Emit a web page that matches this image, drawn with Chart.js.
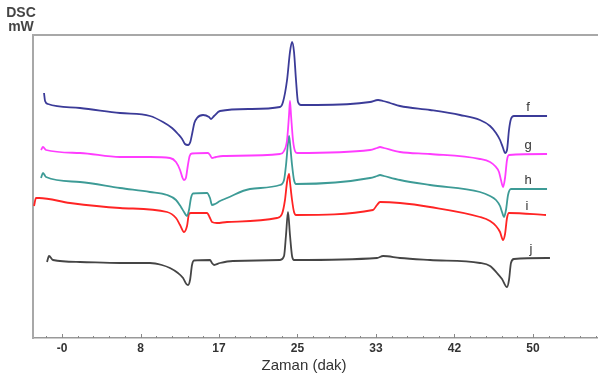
<!DOCTYPE html>
<html lang="tr">
<head>
<meta charset="UTF-8">
<title>DSC</title>
<script src="https://cdn.jsdelivr.net/npm/chart.js"></script>
<style>
    body { margin: 0; padding: 0; background: #fff; }
    #wrap { width: 598px; height: 376px; }
</style>
</head>
<body>
<div id="wrap"><canvas id="dsc"></canvas></div>
<script>
// time (dak) vs heat flow (arbitrary mW, curves offset)
const seriesNames = ['f', 'g', 'h', 'i', 'j'];
const seriesColors = ['#3b3b98', '#ff3cff', '#3d9b96', '#ff2424', '#454545'];

const tickValues = [0, 8.333, 16.667, 25, 33.333, 41.667, 50];
const tickLabels = ['-0', '8', '17', '25', '33', '42', '50'];

const fData = [[-1.91,24.5],[-1.80,23.7],[-1.49,23.4],[1.91,23.0],[6.16,22.5],[9.34,22.2],[10.72,21.6],[11.68,21.0],
    [12.31,20.4],[12.75,19.9],[13.05,19.4],[13.38,19.3],[13.62,19.6],[13.85,20.6],[14.05,21.5],[14.33,22.0],[14.97,22.3],[15.61,22.1],[15.82,21.9],
    [16.14,22.2],[16.77,22.7],[19.96,22.9],[23.14,23.1],[23.46,23.6],[23.89,25.8],[24.20,28.6],[24.42,29.6],[24.63,28.6],
    [24.84,25.8],[25.05,23.6],[25.37,23.3],[27.07,23.3],[32.70,23.6],[33.55,23.8],[34.08,23.7],[34.82,23.5],[35.88,23.2],
    [39.07,22.8],[42.25,22.3],[44.37,21.8],[45.44,21.2],[46.07,20.5],[46.50,19.8],[46.82,19.0],[47.03,18.5],[47.24,18.8],
    [47.45,20.8],[47.66,21.9],[47.98,22.2],[51.49,22.2]];

const gData = [[-2.23,18.8],[-2.02,19.1],[-1.70,18.8],[1.91,18.5],[6.16,18.1],[9.34,18.1],[11.46,18.0],[12.10,17.6],
    [12.53,16.8],[12.80,16.0],[12.95,15.8],[13.15,16.0],[13.35,17.2],[13.55,18.2],[13.80,18.45],[15.50,18.5],[15.71,18.3],[15.92,18.0],[16.35,18.1],
    [17.09,18.2],[23.14,18.4],[23.57,18.7],[23.89,19.8],[24.10,22.3],[24.20,23.7],[24.31,22.3],[24.52,19.8],[24.73,18.7],
    [24.95,18.5],[32.70,18.8],[33.44,19.0],[33.76,19.1],[34.18,19.0],[35.88,18.6],[39.07,18.4],[44.37,17.9],[45.44,17.6],
    [45.97,17.2],[46.39,16.6],[46.60,15.8],[46.82,15.1],[47.03,16.0],[47.24,17.8],[47.45,18.3],[51.49,18.4]];

const hData = [[-2.23,16.0],[-2.02,16.5],[-1.70,16.1],[1.91,15.6],[6.16,15.0],[9.34,14.6],[11.15,14.3],[12.10,13.8],
    [12.63,13.1],[12.95,12.6],[13.27,12.2],[13.48,12.8],[13.69,14.0],[13.91,14.45],[15.39,14.5],[15.71,14.0],[15.92,13.3],
    [16.24,13.4],[16.77,13.7],[17.52,14.0],[19.96,14.9],[23.14,15.3],[23.57,15.8],[23.78,17.3],[23.99,19.5],[24.10,20.2],
    [24.20,19.5],[24.42,17.3],[24.63,15.8],[24.84,15.4],[32.70,16.0],[33.44,16.2],[33.76,16.3],[34.18,16.2],[35.88,15.8],
    [39.07,15.3],[44.37,14.6],[45.44,14.2],[46.07,13.8],[46.50,13.2],[46.71,12.6],[46.92,12.1],[47.13,12.8],[47.35,14.3],
    [47.66,14.9],[51.49,14.9]];

const iData = [[-2.97,13.2],[-2.76,14.0],[-2.44,14.0],[0.85,13.5],[6.16,13.0],[11.15,12.6],[12.10,12.0],[12.53,11.3],
    [12.95,10.6],[13.27,11.2],[13.48,12.4],[13.69,12.5],[15.39,12.5],[15.71,12.0],[15.92,11.6],[16.45,11.5],[17.52,11.6],
    [22.82,12.0],[23.35,12.4],[23.67,13.8],[23.89,15.6],[24.10,16.4],[24.20,15.6],[24.42,13.8],[24.63,12.6],[24.84,12.3],
    [33.01,12.8],[33.44,13.3],[33.76,13.6],[35.88,13.5],[39.07,13.1],[44.37,12.1],[45.44,11.7],[46.07,11.2],[46.50,10.6],
    [46.82,9.8],[47.03,10.4],[47.24,12.0],[47.45,12.5],[51.38,12.3]];

const jData = [[-1.59,7.6],[-1.38,8.2],[-0.96,7.8],[1.91,7.6],[6.16,7.5],[9.34,7.5],[10.60,7.3],[11.46,7.0],[12.31,6.5],[12.85,6.0],
    [13.20,5.4],[13.38,5.3],[13.59,5.8],[13.80,7.3],[14.01,7.75],[15.71,7.8],[15.92,7.5],[16.14,7.3],[16.77,7.5],[18.15,7.7],[23.14,7.8],
    [23.57,8.2],[23.78,10.3],[23.99,12.6],[24.20,10.3],[24.42,8.2],[24.63,7.8],[33.44,8.0],[34.08,8.2],[35.88,8.0],
    [39.07,7.8],[44.37,7.5],[45.44,7.2],[46.18,6.5],[46.71,5.9],[47.24,5.1],[47.45,5.8],[47.66,7.5],[47.98,7.9],[51.80,8.0]];

const allData = [fData, gData, hData, iData, jData];

// frame top line, inward tick marks, curve labels and the text around the plot
const decor = {
    id: 'decor',
    afterDraw(chart) {
        const ctx = chart.ctx, a = chart.chartArea;
        const xs = chart.scales.x, ys = chart.scales.y;
        ctx.save();
        ctx.strokeStyle = '#a8a8a8';
        ctx.lineWidth = 2;
        ctx.beginPath();
        ctx.moveTo(a.left - 1, a.top);
        ctx.lineTo(a.right, a.top);
        ctx.stroke();

        ctx.strokeStyle = '#888';
        ctx.lineWidth = 1;
        const step = (tickValues[1] - tickValues[0]) / 5;
        for (let k = -2; k < 40; k++) {
            const v = k * step;
            if (v < xs.min || v > xs.max) continue;
            const px = Math.round(xs.getPixelForValue(v)) + 0.5;
            const len = k % 5 === 0 ? 4 : 2;
            ctx.beginPath();
            ctx.moveTo(px, a.bottom);
            ctx.lineTo(px, a.bottom - len);
            ctx.stroke();
        }

        ctx.fillStyle = '#333';
        ctx.font = '13px Arial, "Liberation Sans", sans-serif';
        ctx.textAlign = 'center';
        ctx.textBaseline = 'middle';
        chart.data.datasets.forEach((ds, i) => {
            const last = ds.data[ds.data.length - 1];
            ctx.fillText(seriesNames[i], xs.getPixelForValue(last.x) - 19, ys.getPixelForValue(last.y) - 9);
        });

        ctx.font = '15px Arial, "Liberation Sans", sans-serif';
        ctx.fillText('Zaman (dak)', xs.getPixelForValue(25.7), 366);

        ctx.fillStyle = '#444';
        ctx.font = 'bold 14px Arial, "Liberation Sans", sans-serif';
        ctx.fillText('DSC', 21, 13);
        ctx.fillText('mW', 21, 27);
        ctx.restore();
    }
};

new Chart(document.getElementById('dsc'), {
    type: 'line',
    data: {
        datasets: allData.map((d, i) => ({
            label: seriesNames[i],
            data: d.map(p => ({ x: p[0], y: p[1] })),
            borderColor: seriesColors[i],
            borderWidth: 1.8,
            pointRadius: 0,
            cubicInterpolationMode: 'monotone',
            fill: false
        }))
    },
    options: {
        responsive: true,
        maintainAspectRatio: false,
        animation: false,
        layout: { padding: { left: 33, top: 35, right: 0, bottom: 0 } },
        plugins: { legend: { display: false }, tooltip: { enabled: false } },
        scales: {
            x: {
                type: 'linear',
                min: -3.08,
                max: 56.9,
                afterBuildTicks: s => { s.ticks = tickValues.map(v => ({ value: v })); },
                afterFit: s => { s.height = 38; },
                grid: { display: false, drawTicks: false },
                border: { color: '#999', width: 1.5 },
                ticks: {
                    autoSkip: false,
                    maxRotation: 0,
                    padding: 3,
                    color: '#333',
                    font: { family: 'Arial, "Liberation Sans", sans-serif', size: 12, weight: 'bold' },
                    callback: (v, idx) => tickLabels[idx]
                }
            },
            y: {
                min: 0,
                max: 30.3,
                afterFit: s => { s.width = 0; },
                grid: { display: false, drawTicks: false },
                border: { color: '#a8a8a8', width: 2 },
                ticks: { display: false }
            }
        }
    },
    plugins: [decor]
});
</script>
</body>
</html>
